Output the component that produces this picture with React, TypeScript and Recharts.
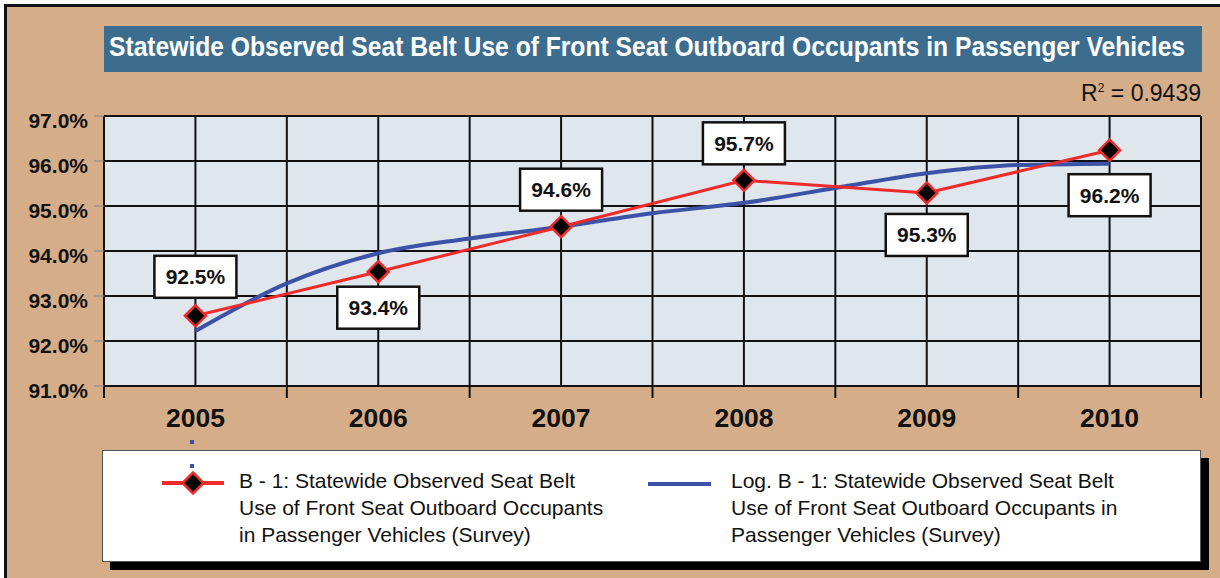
import { useLayoutEffect, useRef, useState } from 'react'
import { LineChart, Line, XAxis, YAxis, CartesianGrid, LabelList } from 'recharts'

const years = [2005, 2006, 2007, 2008, 2009, 2010]
const seatBeltUse = [92.56, 93.54, 94.54, 95.57, 95.29, 96.24]
const useLabels = ['92.5%', '93.4%', '94.6%', '95.7%', '95.3%', '96.2%']

// log trend, every half year
const trendYears = [2005, 2005.5, 2006, 2006.5, 2007, 2007.5, 2008, 2008.5, 2009, 2009.5, 2010]
const trendValues = [92.22, 93.28, 93.95, 94.28, 94.54, 94.84, 95.07, 95.4, 95.73, 95.91, 95.94]

const yTicks = [91, 92, 93, 94, 95, 96, 97]
const rSquared = '0.9439'

const TITLE = 'Statewide Observed Seat Belt Use of Front Seat Outboard Occupants in Passenger Vehicles'
const redLegend = ['B - 1: Statewide Observed Seat Belt', 'Use of Front Seat Outboard Occupants', 'in Passenger Vehicles (Survey)']
const blueLegend = ['Log. B - 1: Statewide Observed Seat Belt', 'Use of Front Seat Outboard Occupants in', 'Passenger Vehicles (Survey)']

const RED = '#ee2a2a'
const BLUE = '#3b52a6'
const TAN = '#d5ae89'
const FONT = '"Liberation Sans", Arial, Helvetica, sans-serif'

// vertical offset of each value box from its point (negative = above)
const labelOffsets = [-39, 36, -37, -37, 42, 45]

const useData = years.map((year, i) => ({ year, use: seatBeltUse[i], label: useLabels[i] }))
const trendData = trendYears.map((year, i) => ({ year, trend: trendValues[i] }))
const xTicks = [...years.flatMap((y) => [y - 0.5, y]), years[years.length - 1] + 0.5]

// eslint-disable-next-line @typescript-eslint/no-explicit-any
function XTick({ x, payload }: any) {
  const v = payload.value as number
  if (Number.isInteger(v)) {
    return (
      <text x={x} y={427} textAnchor="middle" fontFamily={FONT} fontWeight="bold" fontSize={26.5} fill="#111">
        {v}
      </text>
    )
  }
  return <line x1={x} x2={x} y1={386} y2={398} stroke="#111" strokeWidth={2} />
}

// eslint-disable-next-line @typescript-eslint/no-explicit-any
function YTick({ y, payload }: any) {
  return (
    <g>
      <line x1={94} x2={104} y1={y} y2={y} stroke="#888" strokeWidth={1} />
      <text x={88} y={y + 12} textAnchor="end" fontFamily={FONT} fontWeight="bold" fontSize={21} fill="#111">
        {(payload.value as number).toFixed(1)}%
      </text>
    </g>
  )
}

// eslint-disable-next-line @typescript-eslint/no-explicit-any
function Diamond({ cx, cy }: any) {
  if (cx == null || cy == null) return null
  const r = 10.5
  return (
    <path
      d={`M${cx},${cy - r} L${cx + r},${cy} L${cx},${cy + r} L${cx - r},${cy} Z`}
      fill="#000"
      stroke={RED}
      strokeWidth={2.5}
    />
  )
}

// eslint-disable-next-line @typescript-eslint/no-explicit-any
function ValueBox({ x, y, index, value }: any) {
  const cy = y + labelOffsets[index]
  return (
    <g>
      <rect x={x - 41} y={cy - 21} width={82} height={42} fill="#fff" stroke="#111" strokeWidth={2.5} />
      <text x={x} y={cy + 7.5} textAnchor="middle" fontFamily={FONT} fontWeight="bold" fontSize={21} fill="#111">
        {value}
      </text>
    </g>
  )
}

// title text squeezed horizontally to fit the bar, like the narrow face in the original
function Title() {
  const ref = useRef<HTMLSpanElement>(null)
  const [scale, setScale] = useState(1)
  useLayoutEffect(() => {
    if (ref.current) setScale(1076 / ref.current.offsetWidth)
  }, [])
  return (
    <div style={{ position: 'absolute', left: 104, top: 26, width: 1098, height: 46, background: '#3d6d8e', overflow: 'hidden' }}>
      <span
        ref={ref}
        style={{
          position: 'absolute',
          left: 5,
          top: 4,
          display: 'inline-block',
          whiteSpace: 'nowrap',
          fontFamily: '"Liberation Sans Narrow", ' + FONT,
          fontWeight: 'bold',
          fontSize: 28,
          lineHeight: '34px',
          color: '#fff',
          transform: `scaleX(${scale})`,
          transformOrigin: 'left center',
        }}
      >
        {TITLE}
      </span>
    </div>
  )
}

function LegendText({ left, lines }: { left: number; lines: string[] }) {
  return (
    <div style={{ position: 'absolute', left, top: 467, fontSize: 21, lineHeight: '27px', color: '#111', whiteSpace: 'nowrap' }}>
      {lines.map((l) => (
        <div key={l}>{l}</div>
      ))}
    </div>
  )
}

export default function App() {
  return (
    <div style={{ position: 'relative', width: 1220, height: 578, overflow: 'hidden', background: '#fff', fontFamily: FONT }}>
      <style>{'body{margin:0}'}</style>
      <div style={{ position: 'absolute', left: 4, top: 4, width: 1240, height: 600, background: TAN, border: '3px solid #111' }} />

      <Title />

      <div style={{ position: 'absolute', right: 19, top: 80, fontSize: 23, color: '#111', whiteSpace: 'nowrap' }}>
        R<sup style={{ fontSize: 12, verticalAlign: 9 }}>2</sup> = {rSquared}
      </div>

      <div style={{ position: 'absolute', left: 0, top: 0 }}>
        <LineChart width={1220} height={578} margin={{ top: 116, right: 19, bottom: 152, left: 0 }}>
          <CartesianGrid stroke="#111" strokeWidth={2} fill="#dfe6ec" fillOpacity={1} />
          <XAxis
            type="number"
            dataKey="year"
            domain={[2004.5, 2010.5]}
            ticks={xTicks}
            interval={0}
            height={40}
            axisLine={false}
            tickLine={false}
            tick={<XTick />}
          />
          <YAxis
            type="number"
            domain={[91, 97]}
            ticks={yTicks}
            interval={0}
            width={104}
            axisLine={false}
            tickLine={false}
            tick={<YTick />}
          />
          <Line
            data={trendData}
            dataKey="trend"
            type="monotone"
            stroke={BLUE}
            strokeWidth={4}
            dot={false}
            isAnimationActive={false}
          />
          <Line
            data={useData}
            dataKey="use"
            type="linear"
            stroke={RED}
            strokeWidth={3}
            dot={<Diamond />}
            isAnimationActive={false}
          >
            <LabelList dataKey="label" content={<ValueBox />} />
          </Line>
        </LineChart>
      </div>

      {/* stray marks from the original export */}
      <div style={{ position: 'absolute', left: 190, top: 440, width: 4, height: 4, background: BLUE }} />

      <div
        style={{
          position: 'absolute',
          left: 102,
          top: 450,
          width: 1097,
          height: 110,
          background: '#fff',
          border: '1px solid #555',
          boxShadow: '8px 8px 0 #000',
        }}
      />
      <svg style={{ position: 'absolute', left: 0, top: 0 }} width={1220} height={578} pointerEvents="none">
        <line x1={162} x2={224} y1={483} y2={483} stroke={RED} strokeWidth={4} />
        <Diamond cx={193} cy={483} />
        <line x1={648} x2={711} y1={484} y2={484} stroke={BLUE} strokeWidth={4} />
      </svg>
      <div style={{ position: 'absolute', left: 190, top: 464, width: 4, height: 4, background: BLUE }} />
      <LegendText left={239} lines={redLegend} />
      <LegendText left={731} lines={blueLegend} />
    </div>
  )
}
